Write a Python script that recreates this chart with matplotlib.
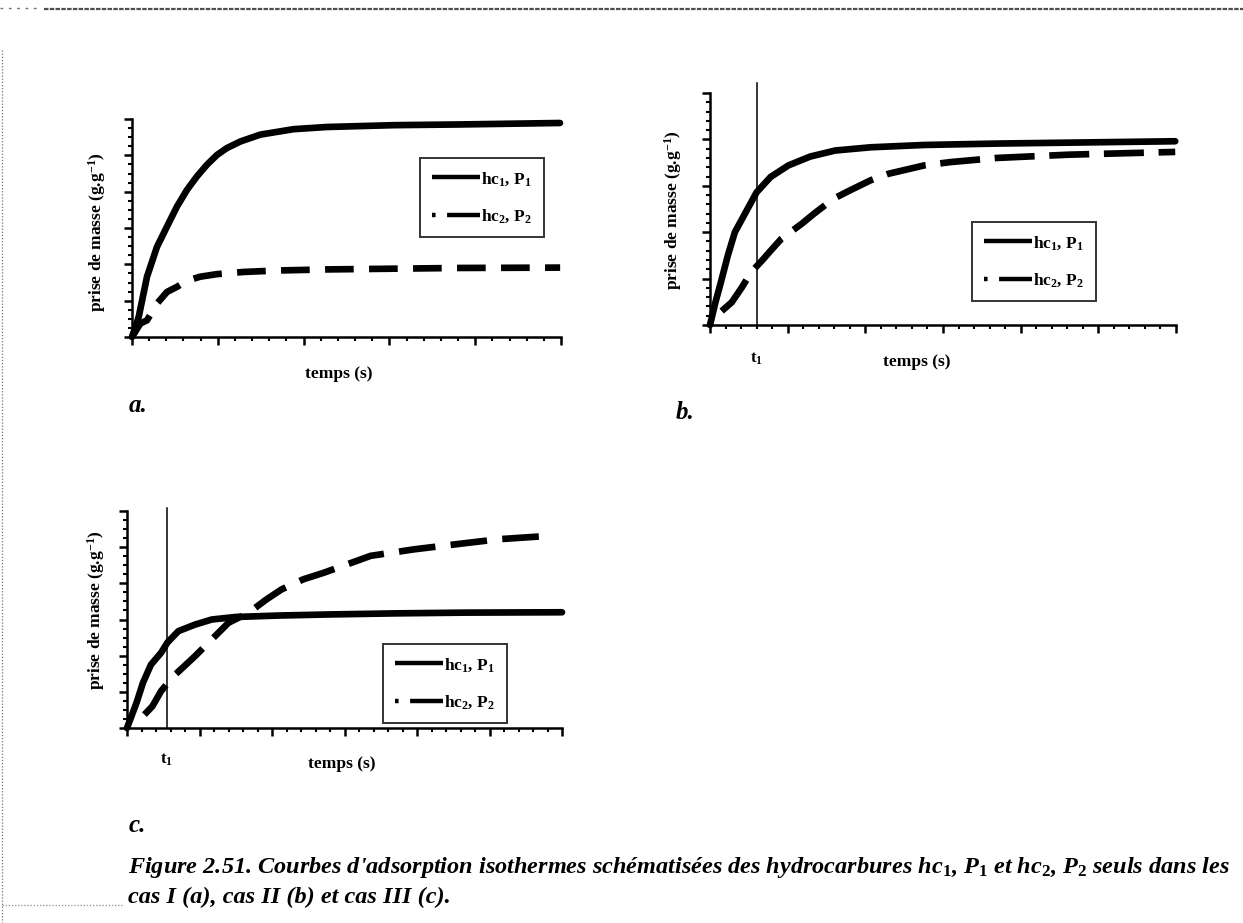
import matplotlib
matplotlib.use("Agg")
import matplotlib.pyplot as plt
from matplotlib.ticker import MultipleLocator
from matplotlib.lines import Line2D

# ---------------- data (arbitrary units) ----------------
# case I
a_t_hc1 = [0, 0.078, 0.175, 0.291, 0.408, 0.524, 0.641, 0.757, 0.873, 0.990,
           1.106, 1.262, 1.495, 1.883, 2.271, 3.047, 3.824, 4.988]
a_m_hc1 = [0, 0.55, 1.66, 2.48, 3.04, 3.59, 4.05, 4.42, 4.74, 5.01,
           5.20, 5.38, 5.57, 5.72, 5.78, 5.83, 5.85, 5.89]
a_t_hc2 = [0, 0.097, 0.175, 0.291, 0.408, 0.524, 0.641, 0.796, 0.990, 1.30,
           1.69, 2.27, 3.05, 3.82, 4.99]
a_m_hc2 = [0, 0.37, 0.46, 0.92, 1.24, 1.38, 1.55, 1.66, 1.73, 1.79,
           1.83, 1.86, 1.88, 1.90, 1.91]

# case II
b_t1 = 0.6
b_t_hc1 = [0, 0.07, 0.14, 0.23, 0.32, 0.46, 0.60, 0.78, 1.01, 1.29, 1.61,
           2.07, 2.76, 3.69, 4.61, 5.99]
b_m_hc1 = [0, 0.49, 0.92, 1.50, 2.00, 2.43, 2.86, 3.19, 3.44, 3.63, 3.76,
           3.83, 3.88, 3.91, 3.93, 3.96]
b_t_hc2 = [0.15, 0.28, 0.41, 0.53, 0.67, 0.78, 0.92, 1.18, 1.34, 1.59, 1.80,
           2.07, 2.30, 2.76, 3.09, 3.69, 4.61, 5.99]
b_m_hc2 = [0.30, 0.49, 0.81, 1.14, 1.39, 1.60, 1.86, 2.18, 2.40, 2.72, 2.90,
           3.12, 3.26, 3.44, 3.51, 3.60, 3.67, 3.73]

# case III
c_t1 = 0.55
c_t_hc1 = [0, 0.13, 0.22, 0.33, 0.47, 0.56, 0.71, 0.94, 1.17, 1.50, 2.10,
           2.80, 3.73, 4.66, 6.0]
c_m_hc1 = [0, 0.69, 1.25, 1.75, 2.08, 2.37, 2.68, 2.86, 3.00, 3.07, 3.11,
           3.14, 3.17, 3.19, 3.20]
c_t_hc2 = [0.24, 0.35, 0.47, 0.64, 0.94, 1.10, 1.40, 1.68, 1.92, 2.13, 2.43,
           2.71, 3.03, 3.36, 3.96, 4.66, 5.13, 5.80]
c_m_hc2 = [0.37, 0.60, 1.02, 1.43, 1.99, 2.31, 2.91, 3.19, 3.55, 3.83, 4.11,
           4.29, 4.52, 4.76, 4.94, 5.11, 5.22, 5.31]

label_hc1 = r"hc$_{1}$, P$_{1}$"
label_hc2 = r"hc$_{2}$, P$_{2}$"
xlabel = "temps (s)"
ylabel = r"prise de masse (g.g$^{-1}$)"
caption_1 = (r"Figure 2.51. Courbes d'adsorption isothermes schématisées des "
             r"hydrocarbures hc$_\mathit{1}$, P$_\mathit{1}$ et hc$_\mathit{2}$, "
             r"P$_\mathit{2}$ seuls dans les")
caption_2 = "cas I (a), cas II (b) et cas III (c)."

# ---------------- style ----------------
plt.rcParams["font.family"] = ["Liberation Serif", "DejaVu Serif"]
plt.rcParams["mathtext.fontset"] = "custom"
plt.rcParams["mathtext.rm"] = "Liberation Serif:bold"
plt.rcParams["mathtext.bf"] = "Liberation Serif:bold"
plt.rcParams["mathtext.it"] = "Liberation Serif:bold:italic"

W, H = 1243, 923
fig = plt.figure(figsize=(W / 100, H / 100), dpi=100)
fig.patch.set_facecolor("white")


def px_axes(left, top, right, bottom):
    return fig.add_axes([left / W, 1 - bottom / H, (right - left) / W, (bottom - top) / H])


def fx(x):
    return x / W


def fy(y):
    return 1 - y / H


LW = 4.8


def style_axes(ax, xmax, ymax, xsub, ysub):
    ax.set_xlim(0, xmax)
    ax.set_ylim(0, ymax)
    for s in ("top", "right"):
        ax.spines[s].set_visible(False)
    for s in ("left", "bottom"):
        ax.spines[s].set_linewidth(1.8)
    ax.xaxis.set_major_locator(MultipleLocator(1))
    ax.xaxis.set_minor_locator(MultipleLocator(1 / xsub))
    ax.yaxis.set_major_locator(MultipleLocator(1))
    ax.yaxis.set_minor_locator(MultipleLocator(1 / ysub))
    ax.tick_params(which="major", direction="out", length=6, width=1.8,
                   labelbottom=False, labelleft=False)
    ax.tick_params(which="minor", direction="out", length=3.2, width=1.5)


def add_legend(ax, left, top, dash_hc2):
    h1 = Line2D([], [], color="black", lw=3.2, solid_capstyle="butt")
    h2 = Line2D([], [], color="black", lw=3.2, dash_capstyle="butt",
                linestyle=(0, dash_hc2))
    leg = fig.legend([h1, h2], [label_hc1, label_hc2], loc="upper left",
                     bbox_to_anchor=(fx(left), fy(top)), bbox_transform=fig.transFigure,
                     frameon=True, fancybox=False, borderaxespad=0, borderpad=0.68,
                     handlelength=2.75, handletextpad=0.1, labelspacing=1.15,
                     prop={"weight": "bold", "size": 12.5})
    leg.get_frame().set_edgecolor("black")
    leg.get_frame().set_linewidth(1.4)
    return leg


def draw_curves(ax, t1, m1, t2, m2, dashes):
    ax.plot(t1, m1, color="black", lw=LW, solid_capstyle="round",
            solid_joinstyle="round", clip_on=False)
    ax.plot(t2, m2, color="black", lw=LW, linestyle=(0, dashes),
            dash_capstyle="butt", dash_joinstyle="round", clip_on=False)


label_kw = dict(fontsize=12.5, fontweight="bold")
legend_dash = (0.8, 2.6, 9.0, 1.0)

# ---------------- (a) ----------------
ax_a = px_axes(132, 119, 561, 337)
style_axes(ax_a, 5, 6, 5, 4)
draw_curves(ax_a, a_t_hc1, a_m_hc1, a_t_hc2, a_m_hc2, (4.3, 2.3))
add_legend(ax_a, 420, 158, legend_dash)
fig.text(fx(97), fy(232), ylabel, rotation=90, ha="center", va="center", **label_kw)
fig.text(fx(339), fy(374), xlabel, ha="center", va="center", **label_kw)

# ---------------- (b) ----------------
ax_b = px_axes(710, 93, 1176, 325)
style_axes(ax_b, 6, 5, 5, 5)
ax_b.axvline(b_t1, ymin=0, ymax=1.045, color="black", lw=1.1, clip_on=False)
draw_curves(ax_b, b_t_hc1, b_m_hc1, b_t_hc2, b_m_hc2, (6.0, 2.2))
add_legend(ax_b, 972, 222, legend_dash)
fig.text(fx(673), fy(210), ylabel, rotation=90, ha="center", va="center", **label_kw)
fig.text(fx(917), fy(362), xlabel, ha="center", va="center", **label_kw)
ax_b.text(b_t1, -0.11, r"t$_{1}$", transform=ax_b.get_xaxis_transform(),
          ha="center", va="top", fontsize=12, fontweight="bold")

# ---------------- (c) ----------------
ax_c = px_axes(127, 511, 562, 728)
style_axes(ax_c, 6, 6, 5, 4)
ax_c.axvline(c_t1, ymin=0, ymax=1.015, color="black", lw=1.1, clip_on=False)
draw_curves(ax_c, c_t_hc1, c_m_hc1, c_t_hc2, c_m_hc2, (5.5, 2.3))
add_legend(ax_c, 383, 644, legend_dash)
fig.text(fx(96), fy(610), ylabel, rotation=90, ha="center", va="center", **label_kw)
fig.text(fx(342), fy(764), xlabel, ha="center", va="center", **label_kw)
ax_c.text(c_t1, -0.11, r"t$_{1}$", transform=ax_c.get_xaxis_transform(),
          ha="center", va="top", fontsize=12, fontweight="bold")

# ---------------- panel letters and caption ----------------
letter_kw = dict(fontsize=18, fontweight="bold", fontstyle="italic", ha="left", va="center")
fig.text(fx(129), fy(406), "a.", **letter_kw)
fig.text(fx(676), fy(413), "b.", **letter_kw)
fig.text(fx(129), fy(826), "c.", **letter_kw)

cap_kw = dict(fontsize=17.5, fontweight="bold", fontstyle="italic", ha="left", va="baseline")
fig.text(fx(128), fy(873), caption_1, **cap_kw)
fig.text(fx(128), fy(903), caption_2, **cap_kw)

# ---------------- page frame ----------------
fig.add_artist(Line2D([fx(44), fx(1243)], [fy(9), fy(9)], color="0.3", lw=1.6,
                      linestyle=(0, (2, 0.6))))
fig.add_artist(Line2D([fx(0), fx(40)], [fy(8), fy(8)], color="0.45", lw=1.0,
                      linestyle=(0, (2, 4))))
fig.add_artist(Line2D([fx(2), fx(2)], [fy(50), fy(923)], color="0.45", lw=0.9,
                      linestyle=(0, (1, 1.5))))
fig.add_artist(Line2D([fx(2), fx(124)], [fy(905), fy(905)], color="0.55", lw=0.9,
                      linestyle=(0, (1, 1.5))))

fig.savefig("out.png", dpi=100, facecolor="white")
